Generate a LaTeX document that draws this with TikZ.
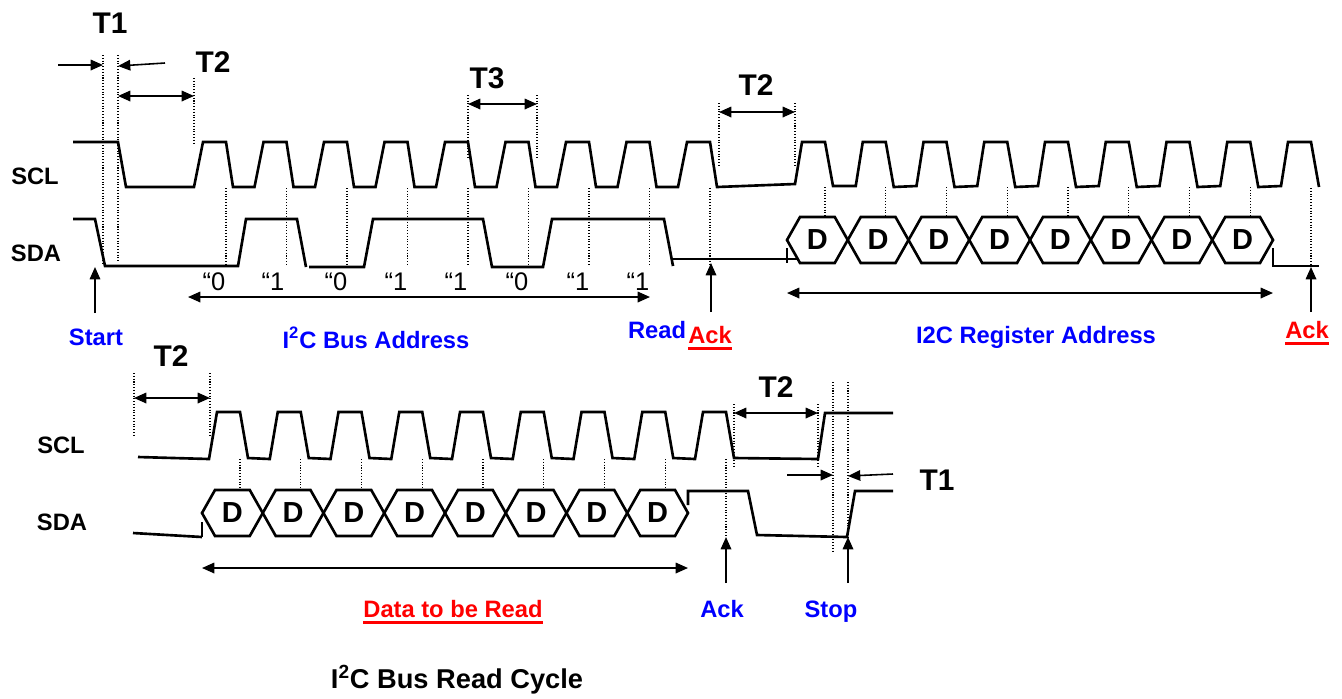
\documentclass[tikz,border=0pt]{standalone}
\usepackage{fontspec}
\setmainfont{Liberation Sans}
\usepackage{xcolor}
\usetikzlibrary{arrows.meta}
\newcommand{\underred}[1]{\setbox0\hbox{#1}\rlap{\vrule height -2.2pt depth 3.8pt width \wd0}\box0}

\begin{document}
\begin{tikzpicture}[x=0.02cm,y=-0.02cm,
    wave/.style={line width=1.5pt},
    guide/.style={densely dotted,line width=0.6pt},
    dim/.style={line width=0.9pt,{Triangle[length=7pt,width=6pt]}-{Triangle[length=7pt,width=6pt]}},
    ptr/.style={line width=0.9pt,-{Triangle[length=7pt,width=6pt]}},
    sig/.style={font=\fontsize{13.5}{16}\selectfont\bfseries,anchor=base,inner sep=0pt},
    tlab/.style={font=\fontsize{17}{20}\selectfont\bfseries,anchor=base,inner sep=0pt},
    bit/.style={font=\fontsize{14.5}{17}\selectfont,anchor=base,inner sep=0pt},
    dlab/.style={font=\fontsize{16.5}{19}\selectfont\bfseries,inner sep=0pt}]
        \useasboundingbox (0,0) rectangle (1342,698);

        % ---- address + register phase ----
        \node[sig] (sclA) at (35,184) {SCL};
        \node[sig] (sdaA) at (36,261) {SDA};
        \draw[wave] (73,142) -- (118,142) -- (126,187)
            foreach \k in {0,...,8} { -- ({194+60.5*\k},187) -- ({203+60.5*\k},142) -- ({226+60.5*\k},142) -- ({233+60.5*\k},187) }
            -- (795,184) -- (802,142) -- (825,142) -- (833,186)
            foreach \j in {1,...,8} { -- ({795+60.75*\j},186) -- ({802+60.75*\j},142) -- ({825+60.75*\j},142) -- ({833+60.75*\j},187) };
        \draw[wave] (73,219) -- (95,219) -- (105,266) -- (238,266) -- (246,219) -- (297,219) -- (306,267);
        \draw[wave] (309,267) -- (364,267) -- (373,219) -- (483,219) -- (492,267) -- (543,267) -- (552,219) -- (664,219) -- (673,266);
        \draw[wave] (673,259) -- (797,259);
        \draw[wave] (787,248) -- (787,263);
        \foreach \i in {0,...,7} {
            \draw[wave] ({787+60.75*\i},240) -- ++(13,-23) -- ++(34.75,0) -- ++(13,23) -- ++(-13,23) -- ++(-34.75,0) -- cycle;
            \node[dlab] (regD\i) at ({817.4+60.75*\i},240) {D};
        }
        \draw[wave] (1273,248) -- (1273,266) -- (1319,266);

        % guides
        \draw[guide] (103,55) -- (103,265);
        \draw[guide] (118,55) -- (118,263);
        \draw[guide] (194,78) -- (194,143);
        \draw[guide] (468,95) -- (468,158);
        \draw[guide] (537,95) -- (537,158);
        \draw[guide] (719,103) -- (719,165);
        \draw[guide] (795,103) -- (795,165);
        \foreach \k in {0,...,8}
            \draw[guide] ({226+60.5*\k},188) -- ({226+60.5*\k},264);
        \foreach \j in {0,...,7}
            \draw[guide] ({825+60.75*\j},187) -- ({825+60.75*\j},217);
        \draw[guide] (1311,188) -- (1311,265);

        % timing marks
        \node[tlab] (tOneA) at (110,33) {T1};
        \draw[ptr] (58,65) -- (103,65);
        \draw[ptr] (165,63) -- (118,66);
        \node[tlab] (tTwoA) at (213,72) {T2};
        \draw[dim] (118,96) -- (194,96);
        \node[tlab] (tThree) at (487,88) {T3};
        \draw[dim] (468,104) -- (537,104);
        \node[tlab] (tTwoB) at (756,95) {T2};
        \draw[dim] (719,112) -- (795,112);

        % bits and spans
        \foreach \b/\x in {0/214,1/273,0/336,1/396,1/456,0/517,1/578,1/638}
            \node[bit] (bit\x) at (\x,290) {“\b};
        \draw[dim] (188,297) -- (650,297);
        \draw[dim] (787,293) -- (1273,293);
        \draw[ptr] (95,313) -- (95,267);
        \draw[ptr] (711,312) -- (711,263);
        \draw[ptr] (1311,312) -- (1311,267);
        \node[sig,blue] (start) at (96,345) {Start};
        \node[sig,blue] (busAddr) at (376,348) {I\textsuperscript{2}C Bus Address};
        \node[sig,blue] (readBit) at (657,338) {Read};
        \node[sig,red] (ackA) at (710,343) {\underred{Ack}};
        \node[sig,blue] (regAddr) at (1036,343) {I2C Register Address};
        \node[sig,red] (ackB) at (1307,338) {\underred{Ack}};

        % ---- data phase ----
        \node[sig] (sclB) at (61,453) {SCL};
        \node[sig] (sdaB) at (62,530) {SDA};
        \draw[wave] (138,457)
            foreach \k in {0,...,8} { -- ({209+60.75*\k},459) -- ({217+60.75*\k},412) -- ({240+60.75*\k},412) -- ({248+60.75*\k},458) }
            -- (818,459) -- (825,413) -- (893,413);
        \draw[wave] (133,533) -- (202,537);
        \draw[wave] (202,522) -- (202,537);
        \foreach \i in {0,...,7} {
            \draw[wave] ({202+60.75*\i},513) -- ++(13,-23) -- ++(34.75,0) -- ++(13,23) -- ++(-13,23) -- ++(-34.75,0) -- cycle;
            \node[dlab] (datD\i) at ({232.4+60.75*\i},513) {D};
        }
        \draw[wave] (688,505) -- (688,491) -- (748,491) -- (757,535) -- (847,537) -- (855,491) -- (893,491);

        % guides
        \draw[guide] (134,373) -- (134,437);
        \draw[guide] (210,373) -- (210,437);
        \draw[guide] (734,404) -- (734,468);
        \draw[guide] (818,404) -- (818,468);
        \draw[guide] (833,382) -- (833,552);
        \draw[guide] (848,382) -- (848,552);
        \foreach \k in {0,...,7}
            \draw[guide] ({240+60.75*\k},459) -- ({240+60.75*\k},490);
        \draw[guide] (726,459) -- (726,537);

        % timing marks
        \node[tlab] (tTwoC) at (171,366) {T2};
        \draw[dim] (134,398) -- (210,398);
        \node[tlab] (tTwoD) at (776,397) {T2};
        \draw[dim] (734,413) -- (818,413);
        \node[tlab] (tOneB) at (937,490) {T1};
        \draw[ptr] (787,475) -- (833,475);
        \draw[ptr] (893,474) -- (848,476);

        % spans
        \draw[dim] (202,568) -- (688,568);
        \draw[ptr] (726,583) -- (726,537);
        \draw[ptr] (848,583) -- (848,537);
        \node[sig,red] (dataRead) at (453,617) {\underred{Data to be Read}};
        \node[sig,blue] (ackC) at (722,617) {Ack};
        \node[sig,blue] (stop) at (831,617) {Stop};

        \node[sig,font=\fontsize{15.5}{18}\selectfont\bfseries] (title) at (457,688) {I\textsuperscript{2}C Bus Read Cycle};
    \end{tikzpicture}
\end{document}
